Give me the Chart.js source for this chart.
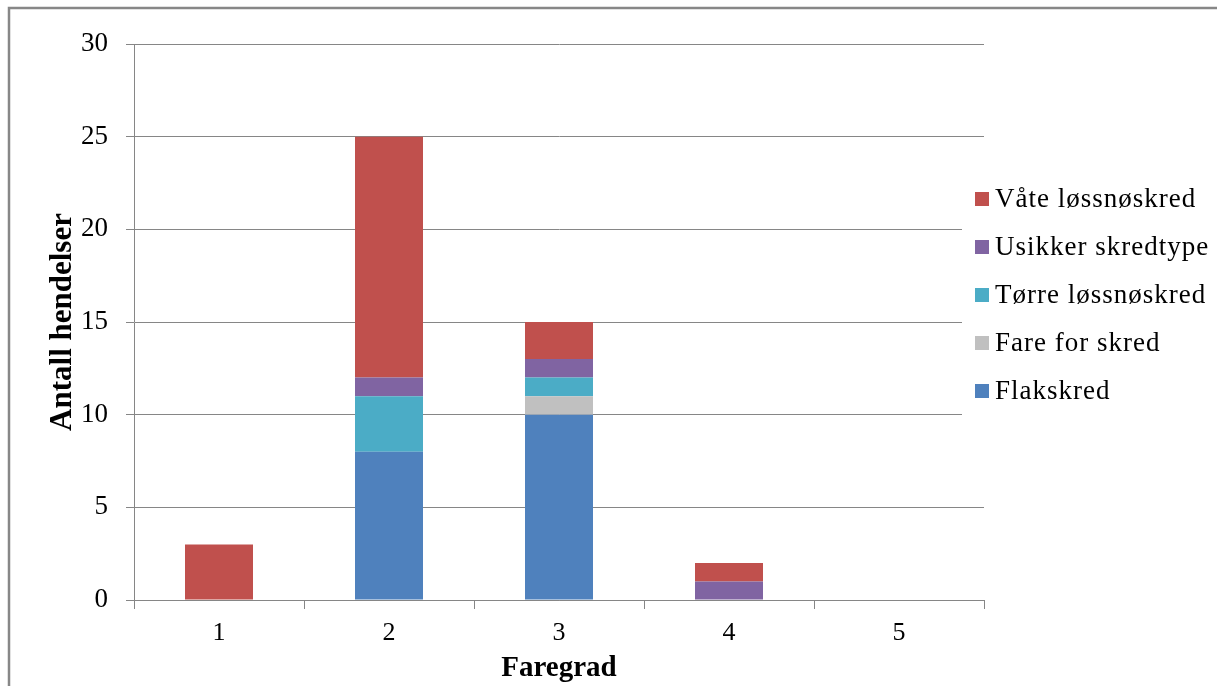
<!DOCTYPE html>
<html>
<head>
<meta charset="utf-8">
<script src="https://cdn.jsdelivr.net/npm/chart.js@4/dist/chart.umd.min.js"></script>
<style>
  html, body { margin: 0; padding: 0; background: #fff; }
  #wrap { width: 1217px; height: 686px; }
</style>
</head>
<body>
<div id="wrap"><canvas id="c" width="1217" height="686"></canvas></div>
<script>
// Faregrad (danger level) categories
const categories = ['1', '2', '3', '4', '5'];

// Number of events per avalanche type at each danger level
const flakskred = [0, 8, 10, 0, 0];
const fareForSkred = [0, 0, 1, 0, 0];
const torreLossnoskred = [0, 3, 1, 0, 0];
const usikkerSkredtype = [0, 1, 1, 1, 0];
const vateLossnoskred = [3, 13, 2, 1, 0];

const yTicks = [0, 5, 10, 15, 20, 25, 30];

const serif = "'Liberation Serif', 'Times New Roman', serif";
const axisGray = '#868686';

// Frame around the figure (top and left edges)
const framePlugin = {
  id: 'frame',
  beforeDraw(chart) {
    const ctx = chart.ctx;
    ctx.save();
    ctx.fillStyle = '#fff';
    ctx.fillRect(0, 0, chart.width, chart.height);
    ctx.strokeStyle = '#878787';
    ctx.lineWidth = 2.5;
    ctx.beginPath();
    ctx.moveTo(9, chart.height);
    ctx.lineTo(9, 8);
    ctx.lineTo(chart.width, 8);
    ctx.stroke();
    ctx.restore();
  }
};

// Legend drawn on a white box that sits over the right end of the plot
const boxLegendPlugin = {
  id: 'boxLegend',
  afterDraw(chart) {
    const ctx = chart.ctx;
    const ds = chart.data.datasets.slice().reverse();
    const x0 = 962, y0 = 168, w = 250, h = 256;
    ctx.save();
    ctx.fillStyle = '#fff';
    ctx.fillRect(x0, y0, w, h);
    ctx.font = '27px ' + serif;
    ctx.letterSpacing = '1px';
    ctx.textBaseline = 'middle';
    ctx.textAlign = 'left';
    ds.forEach((d, i) => {
      const cy = 199 + i * 48;
      ctx.fillStyle = d.backgroundColor;
      ctx.fillRect(975, cy - 7, 14, 14);
      ctx.fillStyle = '#000';
      ctx.fillText(d.label, 995, cy + 1);
    });
    ctx.restore();
  }
};

new Chart(document.getElementById('c'), {
  type: 'bar',
  data: {
    labels: categories,
    datasets: [
      { label: 'Flakskred', data: flakskred, backgroundColor: '#4F81BD' },
      { label: 'Fare for skred', data: fareForSkred, backgroundColor: '#C0C0C0' },
      { label: 'Tørre løssnøskred', data: torreLossnoskred, backgroundColor: '#4BACC6' },
      { label: 'Usikker skredtype', data: usikkerSkredtype, backgroundColor: '#8064A2' },
      { label: 'Våte løssnøskred', data: vateLossnoskred, backgroundColor: '#C0504D' }
    ]
  },
  options: {
    responsive: false,
    devicePixelRatio: 1,
    animation: false,
    layout: { padding: { top: 44, right: 233, left: 0, bottom: 0 } },
    datasets: { bar: { barPercentage: 0.4, categoryPercentage: 1.0, borderWidth: 0 } },
    plugins: {
      legend: { display: false },
      tooltip: { enabled: false }
    },
    scales: {
      x: {
        stacked: true,
        offset: true,
        grid: {
          offset: true,
          drawOnChartArea: false,
          drawTicks: true,
          tickLength: 9,
          color: axisGray
        },
        border: { display: true, color: axisGray, width: 1 },
        ticks: {
          color: '#000',
          font: { family: serif, size: 26 },
          padding: 9,
          maxRotation: 0
        },
        title: {
          display: true,
          text: 'Faregrad',
          color: '#000',
          font: { family: serif, size: 29, weight: 'bold' },
          padding: { top: 6, bottom: 0 }
        },
        afterFit(scale) { scale.height = 86; }
      },
      y: {
        stacked: true,
        min: 0,
        max: 30,
        afterBuildTicks(scale) { scale.ticks = yTicks.map(v => ({ value: v })); },
        grid: {
          color: axisGray,
          drawTicks: true,
          tickLength: 8
        },
        border: { display: true, color: axisGray, width: 1 },
        ticks: {
          color: '#000',
          font: { family: serif, size: 27 },
          padding: 18
        },
        title: {
          display: true,
          text: 'Antall hendelser',
          color: '#000',
          font: { family: serif, size: 31, weight: 'bold' },
          padding: { top: 44, bottom: 0 }
        },
        afterFit(scale) { scale.width = 134; }
      }
    }
  },
  plugins: [framePlugin, boxLegendPlugin]
});
</script>
</body>
</html>
